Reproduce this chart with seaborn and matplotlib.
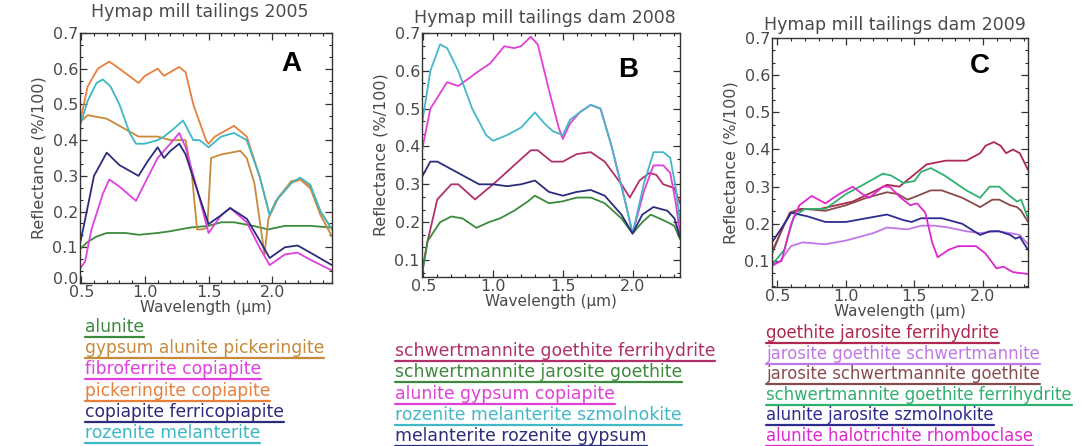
"""
Hymap mill tailings spectra, three panels (2005, 2008, 2009).
"""
import numpy as np
import seaborn as sns
import matplotlib.pyplot as plt
from matplotlib.lines import Line2D
from matplotlib.ticker import MultipleLocator
from matplotlib.transforms import ScaledTranslation

# ---- panel A: 2005 ----
a_alunite_x = [0.49, 0.55, 0.62, 0.7, 0.85, 0.95, 1.1, 1.2, 1.35, 1.5, 1.6, 1.7, 1.85, 1.97, 2.1, 2.3, 2.47]
a_alunite_y = [0.095, 0.115, 0.13, 0.14, 0.14, 0.135, 0.14, 0.145, 0.155, 0.16, 0.17, 0.17, 0.16, 0.15, 0.16, 0.16, 0.155]
a_gypsum_x = [0.49, 0.55, 0.7, 0.85, 0.95, 1.1, 1.2, 1.32, 1.37, 1.41, 1.45, 1.49, 1.52, 1.6, 1.75, 1.8, 1.86, 1.94,
              1.97, 2.05, 2.15, 2.22, 2.3, 2.38, 2.47]
a_gypsum_y = [0.45, 0.47, 0.46, 0.43, 0.41, 0.41, 0.4, 0.4, 0.3, 0.15, 0.15, 0.155, 0.35, 0.36, 0.37, 0.35, 0.28, 0.08,
              0.18, 0.24, 0.285, 0.29, 0.265, 0.19, 0.13]
a_fibro_x = [0.49, 0.53, 0.58, 0.67, 0.72, 0.8, 0.93, 1.0, 1.1, 1.2, 1.27, 1.32, 1.42, 1.5, 1.6, 1.67, 1.8, 1.9, 1.98,
             2.1, 2.2, 2.3, 2.47]
a_fibro_y = [0.04, 0.06, 0.15, 0.25, 0.29, 0.27, 0.23, 0.28, 0.35, 0.39, 0.42, 0.38, 0.25, 0.14, 0.19, 0.21, 0.17,
             0.1, 0.05, 0.08, 0.085, 0.065, 0.035]
a_picker_x = [0.49, 0.55, 0.63, 0.72, 0.8, 0.95, 1.0, 1.1, 1.15, 1.27, 1.32, 1.38, 1.48, 1.5, 1.55, 1.6, 1.7, 1.8,
              1.9, 1.98, 2.03, 2.15, 2.22, 2.3, 2.38, 2.47]
a_picker_y = [0.45, 0.55, 0.6, 0.62, 0.6, 0.56, 0.58, 0.6, 0.58, 0.605, 0.59, 0.5, 0.4, 0.39, 0.41, 0.42, 0.44, 0.41,
              0.3, 0.19, 0.23, 0.28, 0.29, 0.27, 0.2, 0.15]
a_copi_x = [0.49, 0.52, 0.6, 0.7, 0.8, 0.95, 1.02, 1.1, 1.15, 1.2, 1.27, 1.32, 1.42, 1.5, 1.6, 1.67, 1.8, 1.9, 1.98,
            2.1, 2.2, 2.3, 2.47]
a_copi_y = [0.11, 0.16, 0.3, 0.365, 0.33, 0.3, 0.34, 0.38, 0.35, 0.37, 0.39, 0.36, 0.25, 0.165, 0.19, 0.21, 0.18,
            0.12, 0.07, 0.1, 0.105, 0.085, 0.05]
a_rozen_x = [0.49, 0.55, 0.62, 0.67, 0.73, 0.8, 0.88, 0.93, 1.0, 1.1, 1.15, 1.22, 1.3, 1.38, 1.43, 1.5, 1.6, 1.7,
             1.8, 1.9, 1.98, 2.03, 2.15, 2.22, 2.3, 2.38, 2.47]
a_rozen_y = [0.44, 0.51, 0.56, 0.57, 0.55, 0.5, 0.42, 0.39, 0.39, 0.4, 0.41, 0.43, 0.455, 0.4, 0.4, 0.38, 0.41,
             0.42, 0.4, 0.3, 0.19, 0.23, 0.28, 0.295, 0.275, 0.2, 0.15]

# ---- panel B: 2008 ----
b_schw_gf_x = [0.49, 0.53, 0.6, 0.7, 0.75, 0.87, 1.0, 1.15, 1.27, 1.32, 1.42, 1.5, 1.6, 1.7, 1.8, 1.92, 1.98, 2.05,
               2.12, 2.17, 2.22, 2.3, 2.34]
b_schw_gf_y = [0.07, 0.15, 0.26, 0.3, 0.3, 0.26, 0.3, 0.35, 0.39, 0.39, 0.36, 0.36, 0.38, 0.385, 0.36, 0.3, 0.265,
               0.31, 0.33, 0.325, 0.3, 0.29, 0.25]
b_schw_jg_x = [0.49, 0.53, 0.62, 0.7, 0.78, 0.88, 0.97, 1.05, 1.15, 1.25, 1.3, 1.4, 1.5, 1.6, 1.7, 1.8, 1.92, 2.0,
               2.07, 2.13, 2.25, 2.3, 2.34]
b_schw_jg_y = [0.06, 0.15, 0.2, 0.215, 0.21, 0.185, 0.2, 0.21, 0.23, 0.255, 0.27, 0.25, 0.255, 0.265, 0.265, 0.25,
               0.21, 0.17, 0.2, 0.22, 0.2, 0.19, 0.155]
b_alun_x = [0.49, 0.55, 0.67, 0.75, 0.9, 0.98, 1.08, 1.15, 1.2, 1.27, 1.32, 1.4, 1.47, 1.5, 1.55, 1.62, 1.7, 1.77,
            1.85, 1.95, 2.0, 2.08, 2.15, 2.22, 2.27, 2.31, 2.34]
b_alun_y = [0.39, 0.5, 0.57, 0.56, 0.6, 0.62, 0.665, 0.66, 0.665, 0.69, 0.67, 0.55, 0.45, 0.42, 0.46, 0.49, 0.51,
            0.5, 0.4, 0.25, 0.17, 0.28, 0.35, 0.35, 0.33, 0.25, 0.17]
b_rozen_x = [0.49, 0.55, 0.62, 0.67, 0.75, 0.85, 0.95, 1.0, 1.1, 1.2, 1.3, 1.37, 1.43, 1.5, 1.55, 1.62, 1.7, 1.77,
             1.85, 1.95, 2.0, 2.08, 2.15, 2.22, 2.27, 2.31, 2.34]
b_rozen_y = [0.46, 0.6, 0.67, 0.66, 0.6, 0.5, 0.43, 0.415, 0.43, 0.45, 0.49, 0.46, 0.44, 0.43, 0.47, 0.49, 0.51,
             0.5, 0.4, 0.25, 0.17, 0.3, 0.385, 0.385, 0.37, 0.29, 0.2]
b_melan_x = [0.49, 0.55, 0.6, 0.75, 0.9, 1.0, 1.1, 1.2, 1.3, 1.4, 1.5, 1.6, 1.7, 1.8, 1.92, 2.0, 2.07, 2.15, 2.25,
             2.3, 2.34]
b_melan_y = [0.32, 0.36, 0.36, 0.33, 0.3, 0.3, 0.295, 0.3, 0.31, 0.28, 0.27, 0.28, 0.285, 0.27, 0.22, 0.17, 0.22,
             0.24, 0.23, 0.21, 0.16]

# ---- panel C: 2009 ----
c_goeth_x = [0.46, 0.59, 0.665, 0.81, 1.05, 1.22, 1.3, 1.39, 1.49, 1.59, 1.73, 1.88, 1.98, 2.02, 2.08, 2.13, 2.17,
             2.22, 2.27, 2.33]
c_goeth_y = [0.125, 0.23, 0.24, 0.24, 0.26, 0.29, 0.305, 0.3, 0.33, 0.36, 0.37, 0.37, 0.39, 0.41, 0.42, 0.41, 0.39,
             0.4, 0.39, 0.345]
c_jaro_gs_x = [0.46, 0.52, 0.6, 0.68, 0.85, 1.0, 1.2, 1.3, 1.45, 1.55, 1.65, 1.75, 1.88, 1.98, 2.1, 2.2, 2.27, 2.33]
c_jaro_gs_y = [0.085, 0.1, 0.14, 0.15, 0.145, 0.155, 0.175, 0.19, 0.185, 0.195, 0.195, 0.19, 0.18, 0.175, 0.18,
               0.175, 0.17, 0.145]
c_jaro_sg_x = [0.46, 0.55, 0.6, 0.7, 0.85, 1.0, 1.15, 1.3, 1.38, 1.45, 1.52, 1.62, 1.7, 1.85, 1.98, 2.07, 2.12, 2.2,
               2.25, 2.28, 2.33]
c_jaro_sg_y = [0.12, 0.2, 0.23, 0.24, 0.235, 0.25, 0.27, 0.285, 0.28, 0.265, 0.275, 0.29, 0.29, 0.27, 0.245, 0.265,
               0.265, 0.25, 0.245, 0.235, 0.205]
c_schw_x = [0.46, 0.55, 0.62, 0.7, 0.85, 1.0, 1.15, 1.27, 1.33, 1.42, 1.5, 1.55, 1.62, 1.72, 1.88, 1.98, 2.05, 2.12,
            2.18, 2.25, 2.28, 2.33]
c_schw_y = [0.09, 0.13, 0.22, 0.24, 0.24, 0.28, 0.31, 0.335, 0.33, 0.31, 0.315, 0.34, 0.35, 0.33, 0.29, 0.27, 0.3,
            0.3, 0.28, 0.26, 0.265, 0.215]
c_alun_js_x = [0.46, 0.55, 0.6, 0.72, 0.85, 1.0, 1.15, 1.3, 1.42, 1.48, 1.55, 1.7, 1.85, 1.98, 2.05, 2.12, 2.2, 2.24,
               2.27, 2.33]
c_alun_js_y = [0.15, 0.2, 0.23, 0.22, 0.205, 0.205, 0.215, 0.225, 0.21, 0.205, 0.215, 0.215, 0.2, 0.17, 0.18, 0.18,
               0.17, 0.16, 0.165, 0.13]
c_alun_hr_x = [0.46, 0.53, 0.6, 0.66, 0.75, 0.85, 0.95, 1.05, 1.12, 1.17, 1.27, 1.32, 1.4, 1.47, 1.52, 1.58, 1.63,
               1.67, 1.75, 1.82, 1.95, 2.02, 2.1, 2.15, 2.22, 2.33]
c_alun_hr_y = [0.09, 0.1, 0.2, 0.25, 0.275, 0.255, 0.28, 0.3, 0.28, 0.27, 0.3, 0.3, 0.27, 0.25, 0.255, 0.23, 0.15,
               0.11, 0.13, 0.14, 0.14, 0.12, 0.08, 0.085, 0.07, 0.065]

names_a = ["alunite", "gypsum alunite pickeringite", "fibroferrite copiapite",
           "pickeringite copiapite", "copiapite ferricopiapite", "rozenite melanterite"]
names_b = ["schwertmannite goethite ferrihydrite", "schwertmannite jarosite goethite",
           "alunite gypsum copiapite", "rozenite melanterite szmolnokite", "melanterite rozenite gypsum"]
names_c = ["goethite jarosite ferrihydrite", "jarosite goethite schwertmannite",
           "jarosite schwertmannite goethite", "schwertmannite goethite ferrihydrite",
           "alunite jarosite szmolnokite", "alunite halotrichite rhomboclase"]

colors_a = ["#3c8a3c", "#c68a3a", "#e040e0", "#e8803c", "#2c2c7c", "#3cb8c4"]
colors_b = ["#b0306c", "#3c8a3c", "#e040d8", "#44b8c8", "#2c2c7c"]
colors_c = ["#b02850", "#c078e8", "#8a4a4a", "#30b070", "#2c2c90", "#e028d0"]

series_a = [(a_alunite_x, a_alunite_y), (a_gypsum_x, a_gypsum_y), (a_fibro_x, a_fibro_y),
            (a_picker_x, a_picker_y), (a_copi_x, a_copi_y), (a_rozen_x, a_rozen_y)]
series_b = [(b_schw_gf_x, b_schw_gf_y), (b_schw_jg_x, b_schw_jg_y), (b_alun_x, b_alun_y),
            (b_rozen_x, b_rozen_y), (b_melan_x, b_melan_y)]
series_c = [(c_goeth_x, c_goeth_y), (c_jaro_gs_x, c_jaro_gs_y), (c_jaro_sg_x, c_jaro_sg_y),
            (c_schw_x, c_schw_y), (c_alun_js_x, c_alun_js_y), (c_alun_hr_x, c_alun_hr_y)]

sns.set_style("ticks")
plt.rcParams['font.family'] = ['DejaVu Sans']

W, H = 1081, 446
fig = plt.figure(figsize=(W / 100, H / 100), dpi=100)
fig.patch.set_facecolor("white")

# panel configs: axes box in pixels (left, top, right, bottom), limits, title, letter, legend
panels = [
    dict(box=(80, 33, 332, 283), xlim=(0.49, 2.47), ylim=(0.0, 0.7), yt=np.arange(0, 0.71, 0.1),
         title="Hymap mill tailings 2005", tpos=(200, 12), letter="A", lpos=(291, 64),
         series=series_a, names=names_a, colors=colors_a, leg=(85, 327, 21.2, 12.3)),
    dict(box=(422, 33, 680, 277), xlim=(0.49, 2.34), ylim=(0.055, 0.7), yt=np.arange(0.1, 0.71, 0.1),
         title="Hymap mill tailings dam 2008", tpos=(545, 18), letter="B", lpos=(628, 70),
         series=series_b, names=names_b, colors=colors_b, leg=(395, 351, 21.3, 12.4)),
    dict(box=(772, 38, 1028, 287), xlim=(0.46, 2.33), ylim=(0.03, 0.7), yt=np.arange(0.1, 0.71, 0.1),
         title="Hymap mill tailings dam 2009", tpos=(895, 25), letter="C", lpos=(980, 66),
         series=series_c, names=names_c, colors=colors_c, leg=(766, 333, 20.6, 11.9)),
]

txt_col = "#4a4a4a"
legend_texts = []
axes = []
for p in panels:
    l, t, r, b = p["box"]
    ax = fig.add_axes([l / W, 1 - b / H, (r - l) / W, (b - t) / H])
    axes.append(ax)
    for (xs, ys), c in zip(p["series"], p["colors"]):
        sns.lineplot(x=xs, y=ys, ax=ax, color=c, linewidth=1.3, sort=False, estimator=None)
    ax.set_xlim(*p["xlim"])
    ax.set_ylim(*p["ylim"])
    ax.set_xticks([0.5, 1.0, 1.5, 2.0])
    ax.set_yticks(p["yt"])
    ax.set_yticklabels([f"{v:.1f}" for v in p["yt"]])
    ax.xaxis.set_minor_locator(MultipleLocator(0.1))
    ax.yaxis.set_minor_locator(MultipleLocator(0.1 / 3))
    ax.tick_params(direction="in", top=True, right=True, length=5, width=0.9,
                   labelsize=11.5, labelcolor=txt_col, color="#333333", pad=1.5)
    ax.tick_params(which="minor", direction="in", top=True, right=True, length=2.5, width=0.8)
    for s in ax.spines.values():
        s.set_color("#333333")
        s.set_linewidth(1.0)
    ax.set_xlabel("Wavelength (\u00b5m)", fontsize=11, color=txt_col, labelpad=0)
    ax.set_ylabel("Reflectance (%/100)", fontsize=11.5, color=txt_col, labelpad=4)
    fig.text(p["tpos"][0] / W, 1 - p["tpos"][1] / H, p["title"], ha="center", va="center",
             fontsize=12.5, color=txt_col)
    fig.text(p["lpos"][0] / W, 1 - p["lpos"][1] / H, p["letter"], ha="center", va="center",
             fontsize=20, fontweight="bold", family="Liberation Sans", color="black")
    lx, ly, step, fs = p["leg"]
    for i, (name, c) in enumerate(zip(p["names"], p["colors"])):
        tt = fig.text(lx / W, 1 - (ly + i * step) / H, name, ha="left", va="center",
                      fontsize=fs, color=c)
        legend_texts.append((tt, c))

# lift the "0.0" label of panel A a little, as in the original
lab0 = axes[0].get_yticklabels()[0]
lab0.set_transform(lab0.get_transform() + ScaledTranslation(0, 5 / 100, fig.dpi_scale_trans))

# underline each legend entry
fig.canvas.draw()
rend = fig.canvas.get_renderer()
for tt, c in legend_texts:
    bb = tt.get_window_extent(renderer=rend)
    yline = bb.y0 - 1
    fig.add_artist(Line2D([bb.x0 / W, bb.x1 / W], [yline / H, yline / H], color=c, linewidth=1.6,
                          transform=fig.transFigure))

fig.savefig("out.png", dpi=100)
